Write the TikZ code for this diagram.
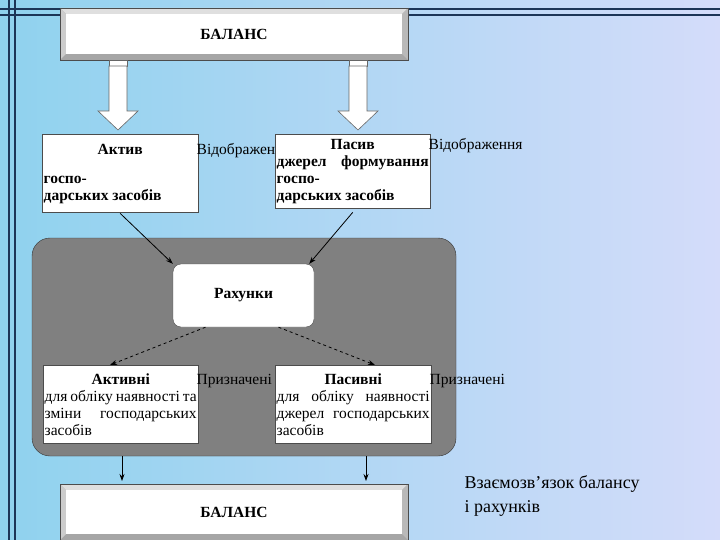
\documentclass[tikz,border=0pt]{standalone}
\usepackage{fontspec}
\setmainfont{Liberation Serif}
\usetikzlibrary{arrows.meta}
\definecolor{bgL}{HTML}{8FD2EE}
\definecolor{bgR}{HTML}{D4DCFA}
\definecolor{frame}{HTML}{1C3557}
\tikzset{
 wbox/.style={draw=black!70,fill=white,inner sep=1.5pt,align=justify,font=\fontsize{15.5}{17}\selectfont},
 conn/.style={-{Stealth[length=7pt,width=5pt]},thick},
 dconn/.style={conn,dashed},
 barrow/.style={draw=black!60,fill=white,line width=0.6pt}
}
\begin{document}
\begin{tikzpicture}[x=1pt,y=-1pt]
\useasboundingbox (0,0) rectangle (720,540);
\shade[left color=bgL,right color=bgR] (0,0) rectangle (720,540);
\draw[frame,line width=1.5pt] (0,9)--(720,9) (0,15)--(720,15) (9,0)--(9,540) (15,0)--(15,540);
% bevel boxes
\foreach \ya/\yb/\nm in {8/60/top,484/540/bot}{
 \fill[gray!70] (60,\ya) rectangle (408,\yb);
 \fill[gray!25] (60,\ya)--(408,\ya)--(402,\ya+6)--(66,\ya+6)--cycle;
 \fill[gray!40] (60,\ya)--(66,\ya+6)--(66,\yb-6)--(60,\yb)--cycle;
 \fill[gray!55] (408,\ya)--(408,\yb)--(402,\yb-6)--(402,\ya+6)--cycle;
 \draw[black!70] (60,\ya) rectangle (408,\yb);
 \fill[white] (66,\ya+6) rectangle (402,\yb-6);
}
\node[font=\bfseries\fontsize{15.5}{17}\selectfont] (bal1) at (234,34) {БАЛАНС};
\node[font=\bfseries\fontsize{15.5}{17}\selectfont] (bal2) at (234,512) {БАЛАНС};
% block arrows
\foreach \cx in {118,358}{
 \draw[barrow] (\cx-9,60) rectangle (\cx+9,66);
 \draw[barrow] (\cx-9,66)--(\cx+9,66)--(\cx+9,111)--(\cx+20,111)--(\cx,130)--(\cx-20,111)--(\cx-9,111)--cycle;
}
% gray region
\fill[black!50,draw=black!80,rounded corners=18pt] (32,238) rectangle (456,456);
% boxes
\node[wbox,text width=153pt,minimum height=78pt,anchor=north west] (aktiv) at (42,134)
 {\centerline{\textbf{Актив}}\vspace{12pt}Відображення \textbf{госпо-\\дарських засобів}\par};
\node[wbox,text width=152pt,minimum height=74pt,anchor=north west] (pasyv) at (275,134)
 {\centerline{\textbf{Пасив}}Відображення \textbf{джерел формування госпо-\\дарських засобів}\par};
\node[draw=black!70,fill=white,rounded corners=8pt,minimum width=141pt,minimum height=63pt,font=\bfseries\fontsize{15.5}{17}\selectfont] (rah) at (243.5,295.5) {Рахунки};
\node[wbox,text width=152pt,minimum height=78pt,anchor=north west] (aktn) at (43,365)
 {\centerline{\textbf{Активні}}Призначені для обліку наявності та зміни господарських засобів\par};
\node[wbox,text width=153pt,minimum height=78pt,anchor=north west] (pasn) at (275,365)
 {\centerline{\textbf{Пасивні}}Призначені для обліку наявності \hfill джерел господарських засобів\par};
% connectors
\draw[conn] (aktiv.south)++(0,1) -- (rah.north west);
\draw[conn] (pasyv.south)++(0,4) -- ([xshift=-5pt]rah.north east);
\draw[dconn] ([xshift=-38pt]rah.south) -- ([xshift=67pt]aktn.north west);
\draw[dconn] ([xshift=35pt]rah.south) -- ([xshift=100pt]pasn.north west);
\coordinate (d1) at (122,456); \coordinate (d2) at (366,456);
\draw[conn] (d1) -- (122,481);
\draw[conn] (d2) -- (366,481);
\node[anchor=north west,align=left,font=\fontsize{18}{24}\selectfont] (cap) at (461,472) {Взаємозв’язок балансу\\і рахунків};
\end{tikzpicture}
\end{document}
